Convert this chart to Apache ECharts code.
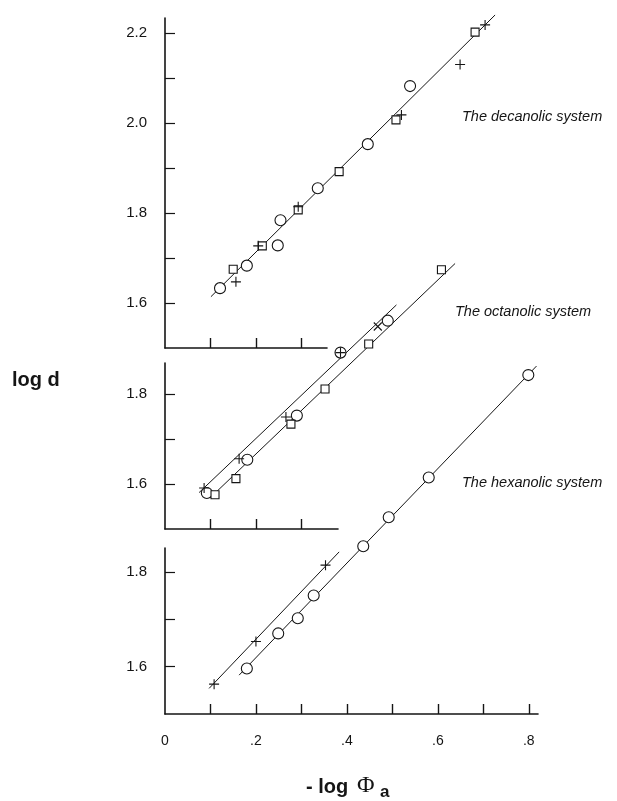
<!DOCTYPE html>
<html>
<head>
<meta charset="utf-8">
<script src="https://cdn.jsdelivr.net/npm/echarts@6/dist/echarts.min.js"></script>
<style>
html,body{margin:0;padding:0;background:#fff;}
#chart{width:617px;height:801px;}
</style>
</head>
<body>
<div id="chart"></div>
<script>
// ---- Data (x = -log Φa, y = log d) ----
// Decanolic system (top panel)
const decanolCircle = [[0.121,1.633],[0.180,1.683],[0.248,1.728],[0.254,1.784],[0.336,1.855],[0.446,1.953],[0.539,2.082]];
const decanolSquare = [[0.150,1.675],[0.214,1.727],[0.293,1.807],[0.383,1.892],[0.508,2.007],[0.682,2.202]];
const decanolPlus   = [[0.156,1.647],[0.205,1.727],[0.293,1.814],[0.520,2.018],[0.649,2.130],[0.704,2.218]];
const decanolFit    = [[0.101,1.614],[0.726,2.240]];
// Octanolic system (middle panel)
const octanolCircle = [[0.092,1.580],[0.181,1.654],[0.290,1.752],[0.386,1.892],[0.490,1.963]];
const octanolSquare = [[0.110,1.576],[0.156,1.612],[0.277,1.733],[0.352,1.811],[0.448,1.911],[0.608,2.076]];
const octanolPlus   = [[0.086,1.591],[0.163,1.656],[0.266,1.749],[0.386,1.892]];
const octanolCross  = [[0.468,1.950]];
const octanolFitUpper = [[0.075,1.581],[0.509,1.998]];
const octanolFitLower = [[0.099,1.569],[0.638,2.090]];
// Hexanolic system (bottom panel)
const hexanolCircle = [[0.180,1.596],[0.249,1.670],[0.292,1.702],[0.327,1.750],[0.436,1.854],[0.492,1.915],[0.580,1.999],[0.799,2.215]];
const hexanolPlus   = [[0.108,1.563],[0.200,1.653],[0.353,1.814]];
const hexanolFitCircle = [[0.163,1.582],[0.817,2.234]];
const hexanolFitPlus   = [[0.097,1.554],[0.383,1.842]];
// Ticks / labels
const xTicksShort = [0.1,0.2,0.3];
const xTicksLong  = [0.1,0.2,0.3,0.4,0.5,0.6,0.7,0.8];
const xLabelVals  = [0,0.2,0.4,0.6,0.8];
const yTicksTop   = [1.6,1.7,1.8,1.9,2.0,2.1,2.2];
const yLabelsTop  = [1.6,1.8,2.0,2.2];
const yTicksLow   = [1.6,1.7,1.8];
const yLabelsLow  = [1.6,1.8];

const FONT = '"Liberation Sans", Arial, Helvetica, sans-serif';
const INK = '#151515';
const chart = echarts.init(document.getElementById('chart'), null, {renderer:'canvas'});

const xMax = [0.3563, 0.3805, 0.8203];
const yMax = [2.2333, 1.8689, 1.8502];
const xTicks = [xTicksShort, xTicksShort, xTicksLong];
const yTicks = [yTicksTop, yTicksLow, yTicksLow];
const yLabels = [yLabelsTop, yLabelsLow, yLabelsLow];

const PLUS = 'path://M5,0L5,10M0,5L10,5';
const CROSS = 'path://M0,0L10,10M10,0L0,10';

function sc(name, data, gi, symbol, size) {
  const hollow = (symbol === 'circle' || symbol === 'rect');
  return {
    name, type:'scatter', data, xAxisIndex:gi, yAxisIndex:gi, clip:false,
    symbol, symbolSize:size, z:5,
    itemStyle:{color: hollow ? '#fff' : 'none', borderColor:INK, borderWidth:1.1, opacity:1},
    emphasis:{disabled:true}
  };
}
// fit line drawn as a custom series: one segment between two data points, via the axes' scales
function fit(pts, gi) {
  return {
    type:'custom', xAxisIndex:gi, yAxisIndex:gi, clip:false, z:2,
    data:[[pts[0][0], pts[0][1], pts[1][0], pts[1][1]]],
    encode:{x:[0,2], y:[1,3]},
    renderItem:(params, api) => {
      const a = api.coord([api.value(0), api.value(1)]);
      const b = api.coord([api.value(2), api.value(3)]);
      return {type:'line', shape:{x1:a[0], y1:a[1], x2:b[0], y2:b[1]},
        style:{stroke:INK, lineWidth:1}};
    },
    emphasis:{disabled:true}
  };
}

const option = {
  animation:false,
  backgroundColor:'#fff',
  grid:[
    {left:165, top:18, width:162, height:330},
    {left:165, top:363, width:173, height:166},
    {left:165, top:548, width:373, height:166}
  ],
  xAxis:[0,1,2].map(i => ({
    gridIndex:i, type:'value', min:0, max:xMax[i], position:'bottom',
    axisLine:{onZero:false, lineStyle:{color:INK, width:1.6}},
    axisTick:{show:true, inside:true, length:10, customValues:xTicks[i], lineStyle:{color:INK, width:1.4}},
    axisLabel:{show:i===2, customValues:xLabelVals, fontFamily:FONT, fontSize:14, color:INK, margin:20,
      formatter: v => v === 0 ? '0' : ('.' + Math.round(v*10))},
    splitLine:{show:false}
  })),
  yAxis:[0,1,2].map(i => ({
    gridIndex:i, type:'value', min:1.5, max:yMax[i],
    axisLine:{show:true, onZero:false, lineStyle:{color:INK, width:1.6}},
    axisTick:{show:true, inside:true, length:10, customValues:yTicks[i], lineStyle:{color:INK, width:1.2}},
    axisLabel:{show:true, customValues:yLabels[i], fontFamily:FONT, fontSize:15, color:INK, margin:18,
      formatter: v => v.toFixed(1)},
    splitLine:{show:false}
  })),
  series:[
    fit(decanolFit,0),
    fit(octanolFitUpper,1), fit(octanolFitLower,1),
    fit(hexanolFitCircle,2), fit(hexanolFitPlus,2),
    sc('dec-circle', decanolCircle, 0, 'circle', 11),
    sc('dec-square', decanolSquare, 0, 'rect', 8),
    sc('dec-plus', decanolPlus, 0, PLUS, 10),
    sc('oct-circle', octanolCircle, 1, 'circle', 11),
    sc('oct-square', octanolSquare, 1, 'rect', 8),
    sc('oct-plus', octanolPlus, 1, PLUS, 10),
    sc('oct-cross', octanolCross, 1, CROSS, 8),
    sc('hex-circle', hexanolCircle, 2, 'circle', 11),
    sc('hex-plus', hexanolPlus, 2, PLUS, 10)
  ],
  graphic:[
    {type:'text', left:12, top:370, style:{text:'log d', font:'bold 20px ' + FONT, fill:INK}},
    {type:'text', left:462, top:109, style:{text:'The decanolic system', font:'italic 14.5px ' + FONT, fill:INK}},
    {type:'text', left:455, top:304, style:{text:'The octanolic system', font:'italic 14.5px ' + FONT, fill:INK}},
    {type:'text', left:462, top:475, style:{text:'The hexanolic system', font:'italic 14.5px ' + FONT, fill:INK}},
    {type:'text', left:306, top:777, style:{text:'- log', font:'bold 20px ' + FONT, fill:INK}},
    {type:'text', left:357, top:774, style:{text:'\u03A6', font:'24px "Liberation Serif", "DejaVu Serif", serif', fill:INK}},
    {type:'text', left:380, top:784, style:{text:'a', font:'bold 17px ' + FONT, fill:INK}}
  ]
};
chart.setOption(option);
</script>
</body>
</html>
